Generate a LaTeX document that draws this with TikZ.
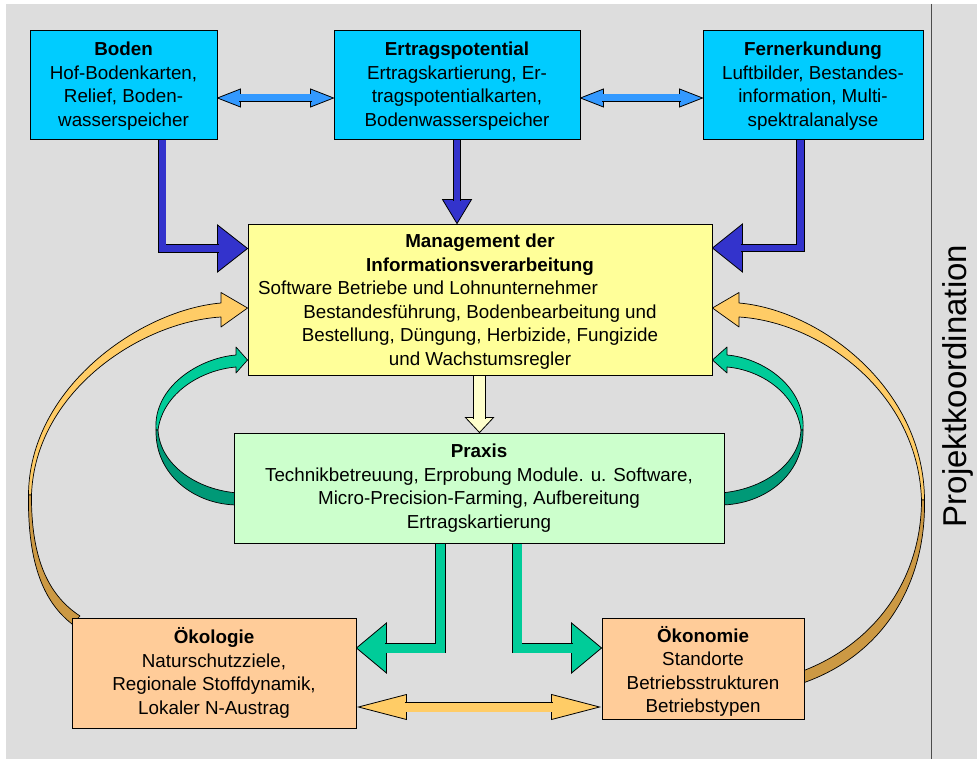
\documentclass[tikz,border=0pt]{standalone}
\usepackage{fontspec}
\setmainfont{Liberation Sans}
\usetikzlibrary{calc}
\pgfdeclarelayer{back}
\pgfdeclarelayer{arr}
\pgfsetlayers{back,arr,main}

\definecolor{bgG}{HTML}{DDDDDD}
\definecolor{boxB}{HTML}{00CCFF}
\definecolor{boxY}{HTML}{FFFF99}
\definecolor{boxG}{HTML}{CCFFCC}
\definecolor{boxO}{HTML}{FFCC99}
\definecolor{arrDB}{HTML}{3333CC}
\definecolor{arrLB}{HTML}{3399FF}
\definecolor{arrY}{HTML}{FFFFCC}
\definecolor{arrG}{HTML}{00CC99}
\definecolor{arrGD}{HTML}{009977}
\definecolor{arrO}{HTML}{FFCC66}
\definecolor{arrOD}{HTML}{CC9944}

\begin{document}
\begin{tikzpicture}[x=1pt,y=-1pt,
  box/.style={draw=black, line width=0.9pt, rectangle, inner sep=0pt, align=center,
              font=\fontsize{18.8}{23.6}\selectfont},
  hd/.style={draw=black, line width=0.8pt, line join=miter},
  shaft/.style={draw=black, line width=0.8pt, line join=miter, line cap=butt},
  rib/.style={draw=black, line width=0.7pt, line join=round}]

\useasboundingbox (0,0) rectangle (977,759);

% ---------- boxes ----------
\node[box, fill=boxB, minimum width=187pt, minimum height=109pt] (boden) at (123.5,84.5)
  {\rule{0pt}{17pt}\textbf{Boden}\\Hof-Bodenkarten,\\Relief, Boden-\\wasserspeicher};
\node[box, fill=boxB, minimum width=246pt, minimum height=109pt] (ertrag) at (457,84.5)
  {\rule{0pt}{17pt}\textbf{Ertragspotential}\\Ertragskartierung, Er-\\tragspotentialkarten,\\Bodenwasserspeicher};
\node[box, fill=boxB, minimum width=220pt, minimum height=109pt] (fern) at (813,84.5)
  {\rule{0pt}{17pt}\textbf{Fernerkundung}\\Luftbilder, Bestandes-\\information, Multi-\\spektralanalyse};
\node[box, fill=boxY, minimum width=464pt, minimum height=151pt] (mgmt) at (480,299.5)
  {\rule{0pt}{18pt}\textbf{Management der}\\\textbf{Informationsverarbeitung}\\
   \hspace*{-104pt}Software Betriebe und Lohnunternehmer\\
   Bestandesführung, Bodenbearbeitung und\\
   Bestellung, Düngung, Herbizide, Fungizide\\
   und Wachstumsregler};
\node[box, fill=boxG, minimum width=490pt, minimum height=110pt] (praxis) at (479,488)
  {\textbf{Praxis}\\Technikbetreuung, Erprobung Module. u. Software,\\
   Micro-Precision-Farming, Aufbereitung\\Ertragskartierung};
\node[box, fill=boxO, minimum width=284pt, minimum height=110pt] (oeko) at (214,673)
  {\textbf{Ökologie}\\Naturschutzziele,\\Regionale Stoffdynamik,\\Lokaler N-Austrag};
\node[box, fill=boxO, minimum width=202pt, minimum height=101pt] (oekon) at (703,668.5)
  {\rule{0pt}{22pt}\textbf{Ökonomie}\\Standorte\\Betriebsstrukturen\\Betriebstypen};
\node[rotate=90, font=\fontsize{33}{38}\selectfont] (proj) at (958,386) {Projektkoordination};

% ---------- background ----------
\begin{pgfonlayer}{back}
  \fill[bgG] (6,4) rectangle (977,759);
  \draw[line width=1pt, black!70] (931,4) -- (931,759);
\end{pgfonlayer}

% ---------- arrows ----------
\begin{pgfonlayer}{arr}
  % double arrows top
  \coordinate (be1) at (boden.east |- 0,98);
  \coordinate (be2) at (ertrag.west |- 0,98);
  \filldraw[hd, fill=arrLB] (be1) -- ++(23,-9) -- ++(0,18) -- cycle;
  \filldraw[hd, fill=arrLB] (be2) -- ++(-23,-9) -- ++(0,18) -- cycle;
  \draw[shaft, double=arrLB, double distance=7pt] ($(be1)+(21.5,0)$) -- ($(be2)+(-21.5,0)$);

  \coordinate (ef1) at (ertrag.east |- 0,98);
  \coordinate (ef2) at (fern.west |- 0,98);
  \filldraw[hd, fill=arrLB] (ef1) -- ++(23,-9) -- ++(0,18) -- cycle;
  \filldraw[hd, fill=arrLB] (ef2) -- ++(-23,-9) -- ++(0,18) -- cycle;
  \draw[shaft, double=arrLB, double distance=7pt] ($(ef1)+(21.5,0)$) -- ($(ef2)+(-21.5,0)$);

  % Boden -> Management
  \coordinate (bm) at (mgmt.west |- 0,248.5);
  \filldraw[hd, fill=arrDB] (bm) -- ++(-30,-23.5) -- ++(0,47) -- cycle;
  \draw[shaft, double=arrDB, double distance=7pt] (boden.south -| 162,0) |- ($(bm)+(-28.5,0)$);

  % Ertragspotential -> Management
  \coordinate (em) at (mgmt.north -| 457,0);
  \filldraw[hd, fill=arrDB] (em) -- ++(-14.5,-24) -- ++(29,0) -- cycle;
  \draw[shaft, double=arrDB, double distance=6.5pt] (ertrag.south -| 457,0) -- ($(em)+(0,-22.5)$);

  % Fernerkundung -> Management
  \coordinate (fm) at (mgmt.east |- 0,248);
  \filldraw[hd, fill=arrDB] (fm) -- ++(30,-24) -- ++(0,48) -- cycle;
  \draw[shaft, double=arrDB, double distance=6.5pt] (fern.south -| 800.5,0) |- ($(fm)+(28.5,0)$);

  % Management -> Praxis
  \coordinate (mp) at (praxis.north -| 479.5,0);
  \filldraw[hd, fill=arrY] (mp) -- ++(-14,-15) -- ++(28,0) -- cycle;
  \draw[shaft, double=arrY, double distance=11pt] (mgmt.south -| 479.5,0) -- ($(mp)+(0,-13.5)$);

  % Praxis -> Oekologie / Oekonomie
  \coordinate (po) at (oeko.east |- 0,648);
  \filldraw[hd, fill=arrG] (po) -- ++(30,-25) -- ++(0,50) -- cycle;
  \draw[shaft, double=arrG, double distance=9pt] (praxis.south -| 440.5,0) |- ($(po)+(28.5,0)$);

  \coordinate (pk) at (oekon.west |- 0,648);
  \filldraw[hd, fill=arrG] (pk) -- ++(-30,-25) -- ++(0,50) -- cycle;
  \draw[shaft, double=arrG, double distance=9pt] (praxis.south -| 517,0) |- ($(pk)+(-28.5,0)$);

  % Oekologie <-> Oekonomie
  \coordinate (oo1) at ($(oeko.east |- 0,707)+(2,0)$);
  \coordinate (oo2) at ($(oekon.west |- 0,707)+(-2,0)$);
  \filldraw[hd, fill=arrO] (oo1) -- ++(48,-12.5) -- ++(0,25) -- cycle;
  \filldraw[hd, fill=arrO] (oo2) -- ++(-48,-12.5) -- ++(0,25) -- cycle;
  \draw[shaft, double=arrO, double distance=9pt] ($(oo1)+(46.5,0)$) -- ($(oo2)+(-46.5,0)$);

  % orange loops
  \filldraw[rib, fill=arrO] (28.5,495) .. controls (29,388) and (140,310) .. (221,303)
     -- (221,292.5) -- (mgmt.west |- 0,308) -- (221,327) -- (221,317)
     .. controls (140,322) and (35,392) .. (31.5,495) -- cycle;
  \filldraw[rib, fill=arrOD] (28.5,495) .. controls (27.5,566) and (45,603) .. (72,624)
     -- (80,616) .. controls (51,597) and (31,563) .. (31.5,495) -- cycle;

  \filldraw[rib, fill=arrO] (924.5,500) .. controls (924,388) and (820,310) .. (739,303)
     -- (739,292.5) -- (mgmt.east |- 0,308) -- (739,327) -- (739,317)
     .. controls (820,322) and (918,392) .. (921.5,500) -- cycle;
  \filldraw[rib, fill=arrOD] (924.5,500) .. controls (926,583) and (884,656) .. (800,684)
     -- (800,672) .. controls (876,644) and (921.5,578) .. (921.5,500) -- cycle;

  % green loops
  \filldraw[rib, fill=arrG] (156,430) .. controls (153,387) and (199,358) .. (236,355)
     -- (236,347) -- (mgmt.west |- 0,360) -- (236,373) -- (236,367)
     .. controls (201,370) and (163,393) .. (158,430) -- cycle;
  \filldraw[rib, fill=arrGD] (156,430) .. controls (155,475) and (195,505) .. (238,505)
     -- (238,493) .. controls (197,490) and (160,465) .. (158,430) -- cycle;

  \filldraw[rib, fill=arrG] (803,430) .. controls (806,387) and (763,358) .. (727,355)
     -- (727,347) -- (mgmt.east |- 0,360) -- (727,373) -- (727,367)
     .. controls (761,370) and (796,393) .. (801,430) -- cycle;
  \filldraw[rib, fill=arrGD] (803,430) .. controls (804,475) and (764,505) .. (720,505)
     -- (720,493) .. controls (762,490) and (799,465) .. (801,430) -- cycle;
\end{pgfonlayer}
\end{tikzpicture}
\end{document}
